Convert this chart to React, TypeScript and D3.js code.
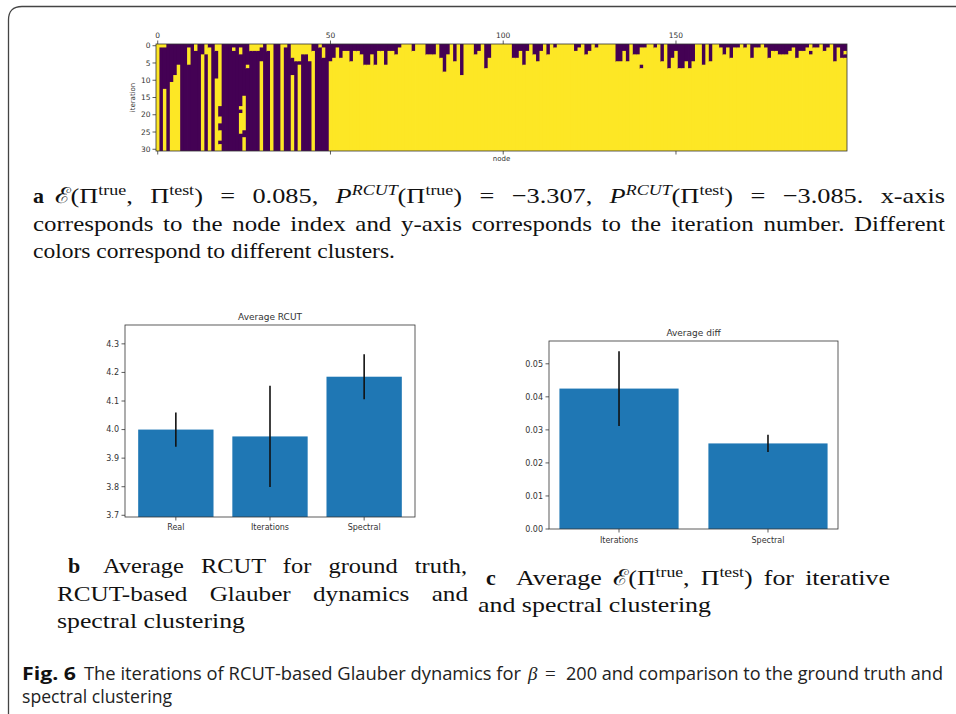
import React from "react";
import * as d3 from "d3";

// ---------- DATA ----------
const NODES = d3.range(200);
const ITERS = d3.range(31);
// nodes 0..49: runs of iterations [from,to] where the node is in the yellow cluster
const earlyYellowRuns: number[][][] = [
  [[0, 30]], [[0, 0]], [[0, 0], [13, 30]], [], [[11, 30]],
  [[9, 30]], [[6, 30]], [], [], [[1, 5]],
  [], [[0, 1]], [], [[3, 30]], [[0, 2]],
  [[1, 30]], [], [[0, 1], [10, 30]], [[0, 17], [21, 22], [25, 27], [29, 30]], [],
  [], [], [[1, 1]], [], [[1, 2], [18, 18], [20, 25]],
  [[15, 24], [27, 30]], [[6, 6]], [[0, 1]], [[0, 1]], [[0, 1]],
  [[0, 0], [5, 30]], [], [[0, 1]], [[0, 30]], [],
  [], [[0, 30]], [[0, 0]], [], [[0, 3], [9, 30]],
  [[0, 4]], [[0, 4], [6, 30]], [[0, 2]], [[0, 2]], [[0, 4]],
  [[2, 30]], [], [[0, 0]], [[1, 3]], [],
];
// nodes 50..199: number of first iterations spent in the purple cluster
const lateDepth: number[] = [
  5, 4, 1, 4, 2, 2, 5, 2, 2, 3,
  6, 6, 3, 6, 2, 2, 6, 2, 2, 3,
  1, 0, 0, 0, 2, 0, 0, 0, 3, 3,
  3, 0, 4, 8, 3, 0, 5, 0, 9, 0,
  0, 0, 3, 2, 0, 7, 4, 0, 0, 0,
  0, 0, 0, 4, 4, 2, 6, 2, 0, 3,
  5, 2, 0, 3, 0, 1, 0, 0, 0, 0,
  0, 2, 1, 0, 3, 2, 0, 1, 0, 0,
  0, 0, 0, 5, 5, 2, 5, 0, 3, 3,
  1, 1, 0, 0, 1, 0, 5, 0, 7, 4,
  2, 7, 7, 5, 7, 5, 0, 0, 6, 0,
  5, 0, 0, 1, 3, 1, 4, 1, 1, 0,
  1, 0, 4, 1, 1, 0, 1, 4, 2, 2,
  3, 3, 3, 2, 1, 4, 2, 2, 1, 0,
  1, 1, 0, 2, 1, 0, 5, 1, 4, 4,
];
const flippedCells: [number, number][] = [[140, 6], [189, 2], [199, 2]];
const heatXTicks = [0, 50, 100, 150];
const heatYTicks = [0, 5, 10, 15, 20, 25, 30];

const rcutCats = ["Real", "Iterations", "Spectral"];
const rcutVals = [4.0, 3.976, 4.185];
const rcutErr = [0.06, 0.177, 0.079];
const rcutTicks = [3.7, 3.8, 3.9, 4.0, 4.1, 4.2, 4.3];

const diffCats = ["Iterations", "Spectral"];
const diffVals = [0.0425, 0.0259];
const diffErr = [0.0113, 0.0026];
const diffTicks = [0.0, 0.01, 0.02, 0.03, 0.04, 0.05];

// ---------- STYLE ----------
const PURPLE = "#440154";
const YELLOW = "#fde725";
const BLUE = "#1f77b4";
const MPL = "'DejaVu Sans', sans-serif";
const SERIF = "'Liberation Serif', 'Times New Roman', serif";
const SANS = "'Open Sans', 'Liberation Sans', sans-serif";
const AXC = "#333";
const TXT = "#111";

function cellValue(n: number, it: number): number {
  let v: number;
  if (n < 50) {
    v = earlyYellowRuns[n].some(([a, b]) => it >= a && it <= b) ? 1 : 0;
  } else {
    v = it < lateDepth[n - 50] ? 0 : 1;
  }
  if (flippedCells.some(([a, b]) => a === n && b === it)) v = 1 - v;
  return v;
}

function Heatmap() {
  const x = d3.scaleBand<number>().domain(NODES).range([156, 847]);
  const y = d3.scaleBand<number>().domain(ITERS).range([44, 151]);
  const color = d3.scaleOrdinal<number, string>().domain([0, 1]).range([PURPLE, YELLOW]);
  const cells: JSX.Element[] = [];
  NODES.forEach((n) => {
    let start = 0;
    const last = n === NODES.length - 1;
    for (let it = 1; it <= ITERS.length; it++) {
      if (it === ITERS.length || cellValue(n, it) !== cellValue(n, start)) {
        const v = cellValue(n, start);
        const y0 = y(start)!;
        const y1 = it === ITERS.length ? 151 : y(it)! + 0.8;
        cells.push(
          <rect key={n + "-" + start} x={x(n)!} y={y0} width={x.bandwidth() + (last ? 0 : 0.8)}
            height={y1 - y0} fill={color(v)} />
        );
        start = it;
      }
    }
  });
  const cx = (n: number) => x(n)! + x.bandwidth() / 2;
  const cy = (i: number) => y(i)! + y.bandwidth() / 2;
  return (
    <g>
      <g>{cells}</g>
      <rect x={156} y={44} width={691} height={107} fill="none" stroke={AXC} strokeWidth={0.8} />
      {heatXTicks.map((t) => (
        <g key={t}>
          <line x1={cx(t)} x2={cx(t)} y1={44} y2={40.5} stroke={AXC} strokeWidth={0.8} />
          <line x1={cx(t)} x2={cx(t)} y1={151} y2={154.5} stroke={AXC} strokeWidth={0.8} />
          <text x={cx(t)} y={38} fontSize={7.5} fontFamily={MPL} fill={AXC} textAnchor="middle">{t}</text>
        </g>
      ))}
      {heatYTicks.map((t) => (
        <g key={t}>
          <line x1={156} x2={152.5} y1={cy(t)} y2={cy(t)} stroke={AXC} strokeWidth={0.8} />
          <text x={150.5} y={cy(t) + 2.6} fontSize={7.5} fontFamily={MPL} fill={AXC} textAnchor="end">{t}</text>
        </g>
      ))}
      <text transform={`translate(134.5,97.5) rotate(-90)`} fontSize={7} fontFamily={MPL} fill={AXC} textAnchor="middle">iteration</text>
      <text x={501.5} y={161} fontSize={7} fontFamily={MPL} fill={AXC} textAnchor="middle">node</text>
    </g>
  );
}

type BarProps = {
  cats: string[]; vals: number[]; errs: number[]; ticks: number[];
  domain: [number, number]; l: number; r: number; t: number; b: number;
  title: string; fmt: (v: number) => string; outer: number;
  tickLabelX: number; titleY: number; xLabelY: number;
};

function BarChart(p: BarProps) {
  const x = d3.scaleBand<string>().domain(p.cats).range([p.l, p.r]).paddingInner(0.2).paddingOuter(p.outer);
  const y = d3.scaleLinear().domain(p.domain).range([p.b, p.t]);
  return (
    <g>
      {p.cats.map((c, i) => (
        <g key={c}>
          <rect x={x(c)!} y={y(p.vals[i])} width={x.bandwidth()} height={p.b - y(p.vals[i])} fill={BLUE} />
          <line x1={x(c)! + x.bandwidth() / 2} x2={x(c)! + x.bandwidth() / 2}
            y1={y(p.vals[i] - p.errs[i])} y2={y(p.vals[i] + p.errs[i])} stroke="#111" strokeWidth={1.6} />
          <line x1={x(c)! + x.bandwidth() / 2} x2={x(c)! + x.bandwidth() / 2} y1={p.b} y2={p.b + 3.5} stroke={AXC} strokeWidth={0.8} />
          <text x={x(c)! + x.bandwidth() / 2} y={p.xLabelY} fontSize={8} fontFamily={MPL} fill={AXC} textAnchor="middle">{c}</text>
        </g>
      ))}
      <rect x={p.l} y={p.t} width={p.r - p.l} height={p.b - p.t} fill="none" stroke={AXC} strokeWidth={0.8} />
      {p.ticks.map((t) => (
        <g key={t}>
          <line x1={p.l} x2={p.l - 3.5} y1={y(t)} y2={y(t)} stroke={AXC} strokeWidth={0.8} />
          <text x={p.tickLabelX} y={y(t) + 2.8} fontSize={8} fontFamily={MPL} fill={AXC} textAnchor="end">{p.fmt(t)}</text>
        </g>
      ))}
      <text x={(p.l + p.r) / 2} y={p.titleY} fontSize={9} fontFamily={MPL} fill={AXC} textAnchor="middle">{p.title}</text>
    </g>
  );
}

// math-ish caption runs: each run may be superscript / italic
type Run = { t: string; sup?: boolean; i?: boolean };
const SUP = 8;
function Runs({ runs }: { runs: Run[] }) {
  let prevSup = false;
  return (
    <>
      {runs.map((r, k) => {
        const sup = !!r.sup;
        const dy = sup === prevSup ? 0 : sup ? -SUP : SUP;
        prevSup = sup;
        return (
          <tspan key={k} dy={dy} fontSize={sup ? 15 : 22} fontStyle={r.i ? "italic" : "normal"}>{r.t}</tspan>
        );
      })}
    </>
  );
}

const ePair: Run[] = [
  { t: "ℰ(Π" }, { t: "true", sup: true }, { t: ", Π" }, { t: "test", sup: true }, { t: ")" },
];
const lineA1: Run[] = [
  ...ePair, { t: " = 0.085, " },
  { t: "P", i: true }, { t: "RCUT", sup: true, i: true }, { t: "(Π" }, { t: "true", sup: true },
  { t: ") = −3.307, " },
  { t: "P", i: true }, { t: "RCUT", sup: true, i: true }, { t: "(Π" }, { t: "test", sup: true },
  { t: ") = −3.085. x-axis" },
];
const lineC1: Run[] = [{ t: "Average " }, ...ePair, { t: " for iterative" }];

export default function App() {
  const serifProps = { fontSize: 22, fontFamily: SERIF, fill: TXT };
  return (
    <svg width={956} height={714} style={{ position: "absolute", left: 0, top: 0, background: "#fff" }}
      xmlns="http://www.w3.org/2000/svg">
      <rect x={0} y={0} width={956} height={714} fill="#fff" />
      <path d="M8.5,714 L8.5,20 Q8.5,6.5 22,6.5 L956,6.5" fill="none" stroke="#444" strokeWidth={1.3} />
      <Heatmap />

      {/* caption a */}
      <text x={33} y={203} {...serifProps} fontWeight="bold">a</text>
      <text x={55} y={203} {...serifProps} wordSpacing={9} textLength={890} lengthAdjust="spacingAndGlyphs">
        <Runs runs={lineA1} />
      </text>
      <text x={33} y={231} {...serifProps} wordSpacing={3} textLength={912} lengthAdjust="spacingAndGlyphs">
        corresponds to the node index and y-axis corresponds to the iteration number. Different
      </text>
      <text x={33} y={258} {...serifProps} textLength={362} lengthAdjust="spacingAndGlyphs">colors correspond to different clusters.</text>

      <BarChart cats={rcutCats} vals={rcutVals} errs={rcutErr} ticks={rcutTicks}
        domain={[3.694, 4.366]} l={125} r={415} t={325} b={517} title="Average RCUT"
        fmt={(v) => v.toFixed(1)} outer={0.14} tickLabelX={119} titleY={320} xLabelY={530} />
      <BarChart cats={diffCats} vals={diffVals} errs={diffErr} ticks={diffTicks}
        domain={[0, 0.0569]} l={549} r={838} t={341} b={529} title="Average diff"
        fmt={(v) => v.toFixed(2)} outer={0.07} tickLabelX={543} titleY={336} xLabelY={543} />

      {/* caption b */}
      <text x={68} y={573} {...serifProps} fontWeight="bold">b</text>
      <text x={103} y={573} {...serifProps} wordSpacing={10} textLength={364} lengthAdjust="spacingAndGlyphs">Average RCUT for ground truth,</text>
      <text x={57} y={601} {...serifProps} wordSpacing={14} textLength={411} lengthAdjust="spacingAndGlyphs">RCUT-based Glauber dynamics and</text>
      <text x={57} y={628} {...serifProps} textLength={188} lengthAdjust="spacingAndGlyphs">spectral clustering</text>
      {/* caption c */}
      <text x={486} y={585} {...serifProps} fontWeight="bold">c</text>
      <text x={516} y={585} {...serifProps} wordSpacing={4} textLength={374} lengthAdjust="spacingAndGlyphs">
        <Runs runs={lineC1} />
      </text>
      <text x={478} y={612} {...serifProps} textLength={233} lengthAdjust="spacingAndGlyphs">and spectral clustering</text>

      {/* figure caption */}
      <text x={22} y={680} fontSize={18} fontFamily={SANS} fontWeight="bold" fill={TXT} textLength={54} lengthAdjust="spacingAndGlyphs">Fig. 6</text>
      <text x={84} y={680} fontSize={18} fontFamily={SANS} fill="#222" textLength={437} lengthAdjust="spacingAndGlyphs">The iterations of RCUT-based Glauber dynamics for</text>
      <text x={528} y={680} fontSize={19} fontFamily={SERIF} fontStyle="italic" fill="#222">β</text>
      <text x={545} y={680} fontSize={19} fontFamily={SERIF} fill="#222">=</text>
      <text x={566} y={680} fontSize={18} fontFamily={SANS} fill="#222" textLength={377} lengthAdjust="spacingAndGlyphs">200 and comparison to the ground truth and</text>
      <text x={22} y={703} fontSize={18} fontFamily={SANS} fill="#222" textLength={150} lengthAdjust="spacingAndGlyphs">spectral clustering</text>
    </svg>
  );
}
